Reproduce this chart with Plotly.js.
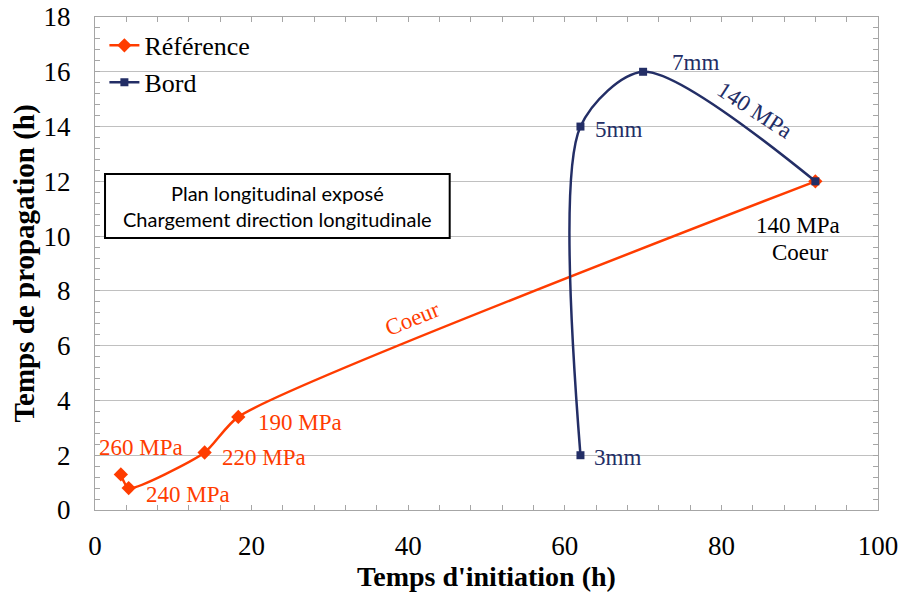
<!DOCTYPE html>
<html><head><meta charset="utf-8">
<script src="https://cdn.plot.ly/plotly-3.0.1.min.js"></script>
<style>html,body{margin:0;padding:0;background:#fff}#chart{width:905px;height:596px}</style>
</head><body><div id="chart"></div>
<script>
const refX = [3.3, 4.3, 14.0, 18.3, 92];
const refY = [1.3, 0.8, 2.1, 3.4, 12];
const refLabels = ["260 MPa", "240 MPa", "220 MPa", "190 MPa", ""];
const bordX = [62, 62, 70, 92];
const bordY = [2, 14, 16, 12];
const bordLabels = ["3mm", "5mm", "7mm", ""];
const seriesNames = ["Référence", "Bord"];
const boxLines = ["Plan longitudinal exposé", "Chargement direction longitudinale"];

const orange = "#FF3C00", navy = "#232E66";
const serif = "Liberation Serif";

const traces = [
  {x: refX, y: refY, name: seriesNames[0], mode: "lines+markers", type: "scatter",
   line: {color: orange, width: 2.5, shape: "spline", smoothing: 0.6},
   marker: {symbol: "diamond", size: 11, color: orange}},
  {x: bordX, y: bordY, name: seriesNames[1], mode: "lines+markers", type: "scatter",
   line: {color: navy, width: 2.5, shape: "spline", smoothing: 0.8},
   marker: {symbol: "square", size: 8, color: navy}}
];

const refShifts = [[-24, 27], [15, -6], [15, -5], [18, -6]];
const bordShifts = [[12, -2], [13, -3], [27, 9]];
const annotations = [];
const annFont = 23;
refLabels.forEach((t, i) => { if (t) annotations.push({x: refX[i], y: refY[i], xref: "x", yref: "y", text: t, showarrow: false,
  xanchor: "left", yanchor: "middle", xshift: refShifts[i][0], yshift: refShifts[i][1], font: {family: serif, size: annFont, color: orange}}); });
bordLabels.forEach((t, i) => { if (t) annotations.push({x: bordX[i], y: bordY[i], xref: "x", yref: "y", text: t, showarrow: false,
  xanchor: "left", yanchor: "middle", xshift: bordShifts[i][0], yshift: bordShifts[i][1], font: {family: serif, size: annFont, color: navy}}); });
annotations.push({x: 84.3, y: 14.6, xref: "x", yref: "y", text: "140 MPa", showarrow: false, textangle: 33,
  font: {family: serif, size: annFont, color: navy}});
annotations.push({x: 40.6, y: 7.0, xref: "x", yref: "y", text: "Coeur", showarrow: false, textangle: -22,
  font: {family: serif, size: annFont, color: orange}});
annotations.push({x: refX[4], y: refY[4], xref: "x", yref: "y", text: "140 MPa", showarrow: false,
  xshift: -17, yshift: -44, font: {family: serif, size: annFont, color: "#000"}});
annotations.push({x: refX[4], y: refY[4], xref: "x", yref: "y", text: "Coeur", showarrow: false,
  xshift: -15, yshift: -71, font: {family: serif, size: annFont, color: "#000"}});
annotations.push({x: 0.233, y: 0.617, xref: "paper", yref: "paper", xanchor: "center", yanchor: "middle",
  text: boxLines.join("<br>"), showarrow: false,
  font: {family: "Lato", size: 20, color: "#000"}});

const layout = {
  width: 905, height: 596,
  margin: {l: 95, r: 27, t: 17, b: 86},
  paper_bgcolor: "#fff", plot_bgcolor: "#fff",
  showlegend: true,
  legend: {x: 0.012, y: 0.99, xanchor: "left", yanchor: "top", bgcolor: "rgba(0,0,0,0)",
    font: {family: serif, size: 26, color: "#000"}, tracegroupgap: 0, itemwidth: 30},
  xaxis: {range: [0, 100], dtick: 20, tick0: 0, showgrid: false, zeroline: false,
    showline: true, linecolor: "#a6a6a6", linewidth: 1, mirror: "allticks",
    ticks: "inside", ticklen: 5, tickcolor: "#a6a6a6",
    minor: {dtick: 4, ticks: "inside", ticklen: 5, tickcolor: "#a6a6a6", showgrid: false},
    ticklabelstandoff: 12,
    tickfont: {family: serif, size: 27, color: "#000"},
    title: {text: "<b>Temps d'initiation (h)</b>", font: {family: serif, size: 28, color: "#000"}, standoff: 4}},
  yaxis: {range: [0, 18], dtick: 2, tick0: 0, showgrid: true, gridcolor: "#c0c0c0", gridwidth: 1, zeroline: false,
    showline: true, linecolor: "#a6a6a6", linewidth: 1, mirror: "allticks",
    ticks: "inside", ticklen: 5, tickcolor: "#a6a6a6",
    minor: {dtick: 0.4, ticks: "inside", ticklen: 5, tickcolor: "#a6a6a6", showgrid: false},
    ticklabelstandoff: 18,
    tickfont: {family: serif, size: 27, color: "#000"},
    title: {text: "<b>Temps de propagation (h)</b>", font: {family: serif, size: 29, color: "#000"}, standoff: 0}},
  shapes: [{type: "rect", xref: "paper", yref: "paper", x0: 0.0128, x1: 0.453, y0: 0.5517, y1: 0.6815,
    line: {color: "#000", width: 2}, fillcolor: "#fff", layer: "above"}],
  annotations: annotations
};
Plotly.newPlot("chart", traces, layout, {displayModeBar: false, staticPlot: true});
</script></body></html>
